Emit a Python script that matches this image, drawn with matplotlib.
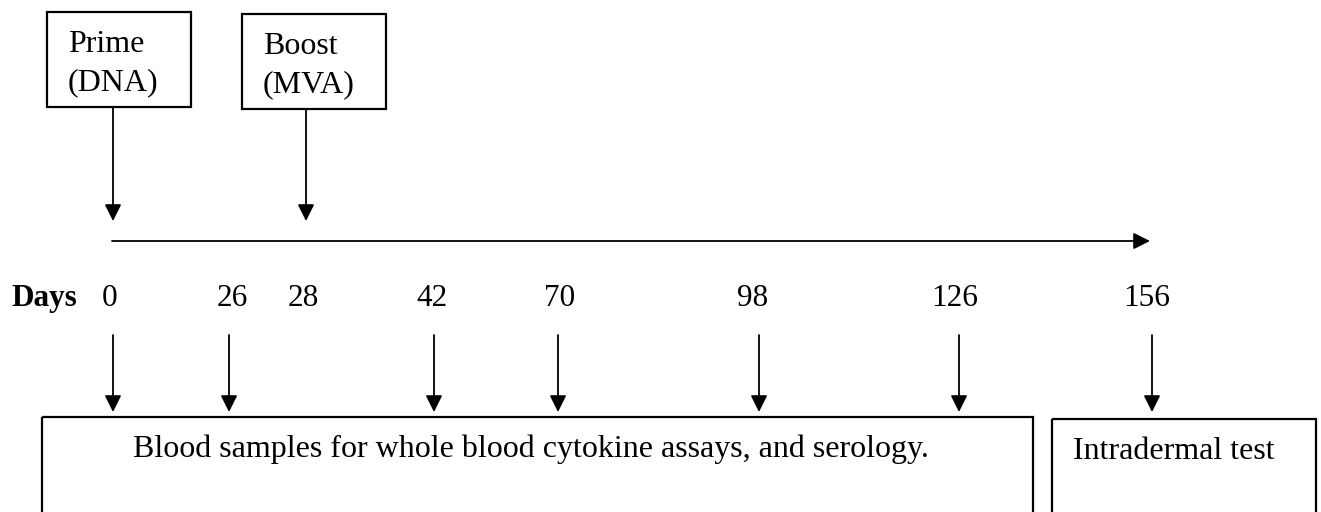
import matplotlib.pyplot as plt
from matplotlib.patches import Rectangle

plt.rcParams['font.family'] = ['Liberation Serif', 'DejaVu Serif']

# timeline content
days = [0, 26, 28, 42, 70, 98, 126, 156]
vaccinations = [("Prime", "(DNA)", 0), ("Boost", "(MVA)", 28)]
sample_days = [0, 26, 42, 70, 98, 126]
test_days = [156]
sample_label = "Blood samples for whole blood cytokine assays, and serology."
test_label = "Intradermal test"

# layout (pixels, the diagram is not drawn to scale)
arrow_x = dict(zip(days, [113, 229, 306, 434, 558, 759, 959, 1152]))
label_x = dict(zip(days, [110, 232, 303, 432, 560, 753, 955, 1147]))
vac_boxes = [(47, 12, 144, 95), (242, 14, 144, 95)]

W, H = 1321, 512
fig = plt.figure(figsize=(W / 100, H / 100), dpi=100)
ax = fig.add_axes([0, 0, 1, 1])
ax.set_xlim(0, W)
ax.set_ylim(H, 0)
ax.axis('off')

arrow = dict(arrowstyle='-|>,head_length=0.5,head_width=0.25', color='black',
             lw=1.3, shrinkA=0, shrinkB=0, mutation_scale=20)

# vaccination boxes and arrows
for (l1, l2, d), (bx, by, bw, bh) in zip(vaccinations, vac_boxes):
    ax.add_patch(Rectangle((bx, by), bw, bh, fill=False, lw=1.6, ec='black'))
    ax.text(bx + 21, by + 40, l1, fontsize=23, ha='left', va='baseline')
    ax.text(bx + 21, by + 78, l2, fontsize=23, ha='left', va='baseline')
    ax.annotate('', xy=(arrow_x[d], 221), xytext=(arrow_x[d], by + bh),
                arrowprops=arrow)

# main timeline
ax.annotate('', xy=(1150, 241), xytext=(112, 241), arrowprops=arrow)

# day labels
ax.text(12, 306, "Days", fontsize=22.5, fontweight='bold', ha='left', va='baseline')
for d in days:
    ax.text(label_x[d], 306, str(d), fontsize=22.5, ha='center', va='baseline')

# sampling arrows
for d in sample_days + test_days:
    ax.annotate('', xy=(arrow_x[d], 412), xytext=(arrow_x[d], 335), arrowprops=arrow)

# bottom boxes
ax.add_patch(Rectangle((42, 417), 991, 120, fill=False, lw=1.6, ec='black'))
ax.text(133, 457, sample_label, fontsize=23, ha='left', va='baseline')
ax.add_patch(Rectangle((1052, 419), 264, 120, fill=False, lw=1.6, ec='black'))
ax.text(1073, 459, test_label, fontsize=23, ha='left', va='baseline')

fig.savefig('out.png', dpi=100)
